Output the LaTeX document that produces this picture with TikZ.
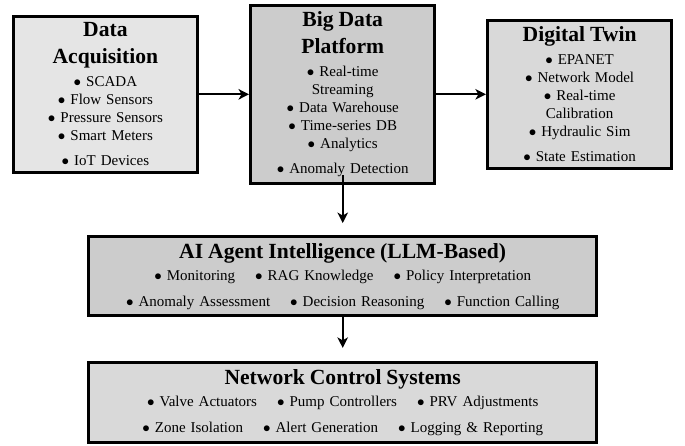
\documentclass[tikz,border=0pt]{standalone}
\usepackage{fontspec}
\setmainfont[WordSpace={1.6,1,0}]{Liberation Serif}
\usetikzlibrary{arrows.meta,%
                positioning}
\hyphenpenalty=10000
\exhyphenpenalty=10000

\begin{document}
\begin{tikzpicture}[block/.style={draw, line width=2pt, align=center, inner xsep=3.3pt, inner ysep=4.3pt, font=\normalsize},
                    smallblock/.style={block, text width=3.2cm, minimum width=4.32cm},
                    wideblock/.style={block, text width=11.5cm, minimum width=11.9cm},
                    flow/.style={-{Stealth[length=7pt,width=7pt,inset=2pt]}, line width=1.3pt}]
        \useasboundingbox (0,0) rectangle (16.05,-10.43);
        \node[smallblock, fill=black!10] (acq) at (2.47,-2.21){\Large\bfseries Data Acquisition\\[3pt]\normalsize\mdseries
            $\bullet$ SCADA\\ $\bullet$ Flow Sensors\\ $\bullet$ Pressure Sensors\\ $\bullet$ Smart Meters\\[5pt] $\bullet$ IoT Devices};
        \node[smallblock, fill=black!20] (bdp) at (8.03,-2.21){\Large\bfseries Big Data Platform\\[3pt]\normalsize\mdseries
            $\bullet$ Real-time Streaming\\ $\bullet$ Data Warehouse\\ $\bullet$ Time-series DB\\ $\bullet$ Analytics\\[5pt] $\bullet$ Anomaly Detection};
        \node[smallblock, fill=black!15] (twin) at (13.58,-2.21){\Large\bfseries Digital Twin\\[3pt]\normalsize\mdseries
            $\bullet$ EPANET\\ $\bullet$ Network Model\\ $\bullet$ Real-time Calibration\\ $\bullet$ Hydraulic Sim\\[5pt] $\bullet$ State Estimation};
        \node[wideblock, fill=black!20] (agent) at (8.03,-6.47){\Large\bfseries AI Agent Intelligence (LLM-Based)\\[3pt]\normalsize\mdseries
            $\bullet$ Monitoring \quad $\bullet$ RAG Knowledge \quad $\bullet$ Policy Interpretation\\[5pt]
            $\bullet$ Anomaly Assessment \quad $\bullet$ Decision Reasoning \quad $\bullet$ Function Calling};
        \node[wideblock, fill=black!15] (ctrl) at (8.03,-9.43){\Large\bfseries Network Control Systems\\[3pt]\normalsize\mdseries
            $\bullet$ Valve Actuators \quad $\bullet$ Pump Controllers \quad $\bullet$ PRV Adjustments\\[5pt]
            $\bullet$ Zone Isolation \quad $\bullet$ Alert Generation \quad $\bullet$ Logging \& Reporting};
        \draw[flow] (acq) -- (bdp);
        \draw[flow] (bdp) -- (twin);
        \draw[flow] ([yshift=6.5pt]bdp.south) -- ([yshift=8pt]agent.north);
        \draw[flow] (agent.south) -- ([yshift=9pt]ctrl.north);
    \end{tikzpicture}
\end{document}
